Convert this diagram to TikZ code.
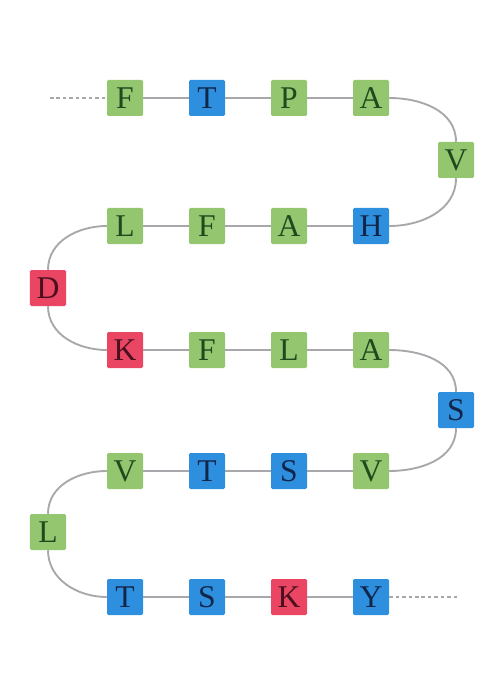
\documentclass[tikz,border=0pt]{standalone}
\usepackage{fontspec}
\setmainfont{Liberation Serif}
\begin{document}
\begin{tikzpicture}[x=0.03cm,y=-0.03cm,
  res/.style={minimum size=1.08cm,inner sep=0pt,rounded corners=1.2pt,
    font=\fontsize{27}{27}\selectfont},
  hyd/.style={res,fill=hgreen,text=tgreen},
  pol/.style={res,fill=pblue,text=tblue},
  chg/.style={res,fill=cred,text=tred},
  chain/.style={draw=lgray,line width=1.6pt},
  tail/.style={draw=lgray,line width=1.4pt,dash pattern=on 3pt off 2.5pt}]
\definecolor{hgreen}{HTML}{94C670}
\definecolor{tgreen}{HTML}{1E4A1E}
\definecolor{pblue}{HTML}{2F8FDF}
\definecolor{tblue}{HTML}{10264A}
\definecolor{cred}{HTML}{EA4663}
\definecolor{tred}{HTML}{4A1020}
\definecolor{lgray}{HTML}{A8A8AC}
\useasboundingbox (0,0) rectangle (498,684);

% row 1
\node[hyd] (r1) at (125,98) {F};
\node[pol] (r2) at (207,98) {T};
\node[hyd] (r3) at (289,98) {P};
\node[hyd] (r4) at (371,98) {A};
\node[hyd] (r5) at (456,160) {V};
% row 2
\node[pol] (r6) at (371,226) {H};
\node[hyd] (r7) at (289,226) {A};
\node[hyd] (r8) at (207,226) {F};
\node[hyd] (r9) at (125,226) {L};
\node[chg] (r10) at (48,288) {D};
% row 3
\node[chg] (r11) at (125,350) {K};
\node[hyd] (r12) at (207,350) {F};
\node[hyd] (r13) at (289,350) {L};
\node[hyd] (r14) at (371,350) {A};
\node[pol] (r15) at (456,410) {S};
% row 4
\node[hyd] (r16) at (371,471) {V};
\node[pol] (r17) at (289,471) {S};
\node[pol] (r18) at (207,471) {T};
\node[hyd] (r19) at (125,471) {V};
\node[hyd] (r20) at (48,532) {L};
% row 5
\node[pol] (r21) at (125,597) {T};
\node[pol] (r22) at (207,597) {S};
\node[chg] (r23) at (289,597) {K};
\node[pol] (r24) at (371,597) {Y};

\coordinate (tin) at (50,98);
\coordinate (tout) at (458,597);

% free ends of the chain
\draw[tail] (tin) -- (r1);
\draw[tail] (r24) -- (tout);

% straight runs
\draw[chain] (r1) -- (r2) -- (r3) -- (r4);
\draw[chain] (r6) -- (r7) -- (r8) -- (r9);
\draw[chain] (r11) -- (r12) -- (r13) -- (r14);
\draw[chain] (r16) -- (r17) -- (r18) -- (r19);
\draw[chain] (r21) -- (r22) -- (r23) -- (r24);

% turns
\draw[chain] (r4.east) to[out=0,in=90] (r5.north);
\draw[chain] (r5.south) to[out=-90,in=0] (r6.east);
\draw[chain] (r9.west) to[out=180,in=90] (r10.north);
\draw[chain] (r10.south) to[out=-90,in=180] (r11.west);
\draw[chain] (r14.east) to[out=0,in=90] (r15.north);
\draw[chain] (r15.south) to[out=-90,in=0] (r16.east);
\draw[chain] (r19.west) to[out=180,in=90] (r20.north);
\draw[chain] (r20.south) to[out=-90,in=180] (r21.west);
\end{tikzpicture}
\end{document}
